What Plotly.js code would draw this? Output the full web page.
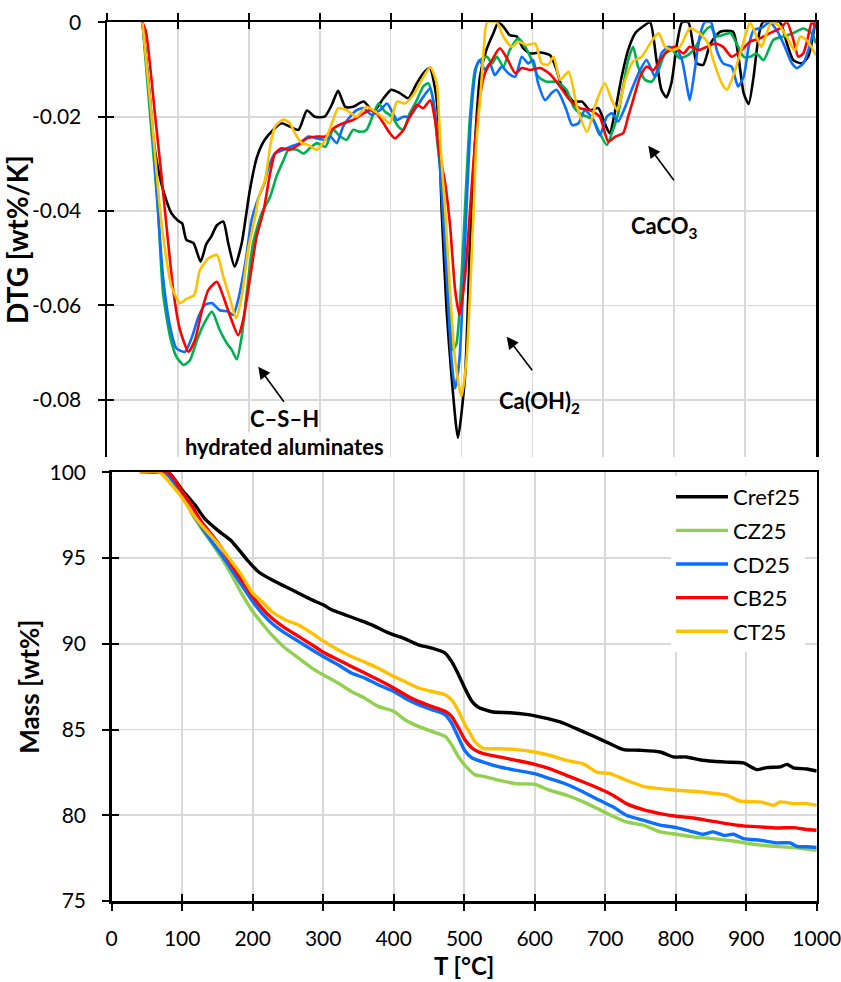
<!DOCTYPE html>
<html>
<head>
<meta charset="utf-8">
<script src="https://cdn.plot.ly/plotly-3.0.1.min.js"></script>
<style>html,body{margin:0;padding:0;background:#fff;}#chart{width:841px;height:982px;}</style>
</head>
<body>
<div id="chart"></div>
<script>
// ---------------- DATA ----------------
const seriesNames = ['Cref25', 'CZ25', 'CD25', 'CB25', 'CT25'];
const xTicks = [0, 100, 200, 300, 400, 500, 600, 700, 800, 900, 1000];
const dtgTickVals = [0, -0.02, -0.04, -0.06, -0.08];
const dtgTickText = ['0', '-0.02', '-0.04', '-0.06', '-0.08'];
const massTicks = [75, 80, 85, 90, 95, 100];

// DTG [wt%/K] (top panel)
const dtgT_Cref25 = [50,58,65,72,80,91,100,106,112,122,132,140,147,155,164,171,180,190,201,211,222,235,246,258,270,282,293,307,317,326,336,347,362,376,390,401,413,425,437,446,455,463,468,472,479,486,495,505,512,519,526,535,545,552,559,568,578,587,597,611,625,634,640,648,658,670,681,693,702,709,717,726,735,745,756,766,775,782,789,796,804,811,820,832,841,851,865,883,890,898,905,912,919,925,949,959,968,980,989,999];
const dtg_Cref25 = [0,-0.012,-0.024,-0.031,-0.036,-0.0405,-0.042,-0.0426,-0.0461,-0.0468,-0.0507,-0.047,-0.0454,-0.043,-0.0422,-0.0468,-0.0518,-0.0468,-0.036,-0.0288,-0.025,-0.0227,-0.0214,-0.0221,-0.0228,-0.0187,-0.020,-0.020,-0.0175,-0.0145,-0.0179,-0.0179,-0.0168,-0.0189,-0.0161,-0.0143,-0.015,-0.0161,-0.0129,-0.0108,-0.0097,-0.0143,-0.022,-0.0398,-0.061,-0.0751,-0.088,-0.075,-0.0468,-0.0256,-0.0115,-0.0059,-0.0023,0,-0.0009,-0.0027,-0.003,-0.0055,-0.0066,-0.0064,-0.007,-0.010,-0.013,-0.015,-0.0168,-0.0168,-0.0186,-0.0182,-0.0214,-0.0235,-0.0186,-0.0115,-0.0059,-0.0023,-0.0009,0,-0.008,-0.0143,-0.0159,-0.0129,-0.0045,0,0,-0.0087,-0.009,-0.0045,-0.002,-0.002,-0.0066,-0.015,-0.0173,-0.0115,-0.003,0,0,-0.0045,-0.008,-0.0087,-0.0073,0];

const dtgT_CZ25 = [50,61,72,79,89,98,108,117,127,136,148,159,169,176,183,190,197,206,218,230,239,249,256,268,277,286,296,308,319,329,338,347,357,366,376,383,392,402,411,418,427,437,446,453,460,466,474,481,488,493,500,506,512,519,526,536,543,550,559,568,580,590,599,608,620,634,648,658,667,677,686,695,705,712,721,728,735,742,749,759,768,778,787,797,808,820,829,841,851,860,879,888,898,907,916,926,940,954,968,982,994,1000];
const dtg_CZ25 = [0,-0.02,-0.04,-0.0574,-0.0666,-0.0709,-0.0726,-0.0716,-0.0673,-0.0641,-0.0613,-0.0652,-0.068,-0.0694,-0.0714,-0.0666,-0.0574,-0.0468,-0.0405,-0.037,-0.0327,-0.0292,-0.027,-0.027,-0.0278,-0.0267,-0.0256,-0.0264,-0.0228,-0.0242,-0.0249,-0.0228,-0.0232,-0.0228,-0.0193,-0.0172,-0.0189,-0.020,-0.0221,-0.0228,-0.0193,-0.0165,-0.0136,-0.0129,-0.0165,-0.0255,-0.037,-0.0539,-0.0694,-0.068,-0.0539,-0.0362,-0.020,-0.0101,-0.008,-0.0073,-0.0087,-0.0073,-0.0094,-0.0059,-0.0034,-0.0052,-0.008,-0.0115,-0.0126,-0.0126,-0.0143,-0.0179,-0.0193,-0.020,-0.0207,-0.0235,-0.026,-0.0235,-0.0193,-0.0136,-0.008,-0.0052,-0.0094,-0.0122,-0.0126,-0.0101,-0.0066,-0.0059,-0.0076,-0.0069,-0.0055,-0.0023,-0.0009,-0.003,-0.0023,-0.0045,-0.0073,-0.0073,-0.0066,-0.008,-0.0037,-0.003,-0.0023,-0.0013,-0.0023,-0.0045];

const dtgT_CD25 = [50,63,72,79,89,98,110,120,129,138,148,159,171,178,185,195,204,214,222,228,237,249,258,272,284,296,308,315,324,333,343,352,362,373,385,395,402,409,418,427,437,446,456,465,472,479,486,491,497,503,508,514,521,526,533,540,547,557,566,576,585,594,601,608,618,627,634,639,648,656,665,674,686,695,705,712,721,731,740,752,761,773,782,792,804,811,818,822,829,836,843,852,860,869,881,890,898,905,912,923,935,947,956,966,973,982,992,999];
const dtg_CD25 = [0,-0.02,-0.04,-0.0539,-0.0645,-0.0691,-0.0698,-0.0666,-0.0624,-0.0599,-0.0595,-0.061,-0.0613,-0.062,-0.0588,-0.051,-0.0419,-0.037,-0.0341,-0.0306,-0.0278,-0.027,-0.0264,-0.0256,-0.0242,-0.0246,-0.0249,-0.0242,-0.0256,-0.0221,-0.020,-0.0186,-0.0182,-0.0196,-0.0186,-0.0172,-0.0189,-0.0207,-0.020,-0.020,-0.0179,-0.0158,-0.014,-0.0221,-0.0362,-0.0539,-0.0716,-0.0776,-0.0716,-0.0539,-0.0362,-0.0186,-0.0094,-0.008,-0.0101,-0.0087,-0.0112,-0.0094,-0.0108,-0.0115,-0.0073,-0.0087,-0.008,-0.0129,-0.0165,-0.015,-0.0143,-0.0154,-0.0186,-0.0218,-0.0214,-0.0186,-0.0207,-0.0239,-0.020,-0.0193,-0.021,-0.0179,-0.0143,-0.0101,-0.008,-0.0115,-0.0066,-0.0052,-0.0059,-0.008,-0.0136,-0.0165,-0.0101,-0.003,0,0,-0.0059,-0.0087,-0.0094,-0.0136,-0.0115,-0.0052,-0.0016,-0.0012,0,-0.0023,-0.0052,-0.0087,-0.0097,-0.0087,-0.0045,0];

const dtgT_CB25 = [50,55,68,77,84,94,103,115,124,134,143,155,164,174,185,192,202,211,221,230,237,246,258,270,282,296,308,319,333,347,362,371,380,390,399,406,418,427,437,446,456,463,468,477,484,491,497,505,512,519,526,533,543,554,564,576,585,597,611,625,639,653,667,681,695,707,717,728,735,742,752,761,771,780,792,801,813,822,834,846,858,869,881,893,907,921,935,949,959,968,975,982,989,994,1000];
const dtg_CB25 = [0,-0.002,-0.02,-0.0327,-0.0433,-0.0574,-0.0652,-0.0698,-0.0673,-0.061,-0.0567,-0.055,-0.0581,-0.0624,-0.0663,-0.0631,-0.0539,-0.0454,-0.0398,-0.032,-0.0278,-0.0267,-0.027,-0.026,-0.0246,-0.0242,-0.0242,-0.0225,-0.0214,-0.0207,-0.0193,-0.0186,-0.0193,-0.0214,-0.0235,-0.0246,-0.0228,-0.020,-0.0175,-0.0182,-0.0165,-0.021,-0.027,-0.0341,-0.0433,-0.0567,-0.062,-0.0539,-0.0398,-0.0256,-0.0158,-0.0108,-0.008,-0.0055,-0.0076,-0.0108,-0.0097,-0.0101,-0.0097,-0.011,-0.0136,-0.0165,-0.0182,-0.0186,-0.020,-0.0253,-0.0242,-0.0235,-0.020,-0.0165,-0.0115,-0.0094,-0.0101,-0.008,-0.0059,-0.0052,-0.0066,-0.0052,-0.0059,-0.0052,-0.0045,-0.0052,-0.0073,-0.0062,-0.0041,-0.0034,-0.0023,-0.0013,0,-0.0037,-0.0073,-0.0066,-0.003,0,-0.001];

const dtgT_CT25 = [50,63,75,84,91,103,112,123,131,143,155,164,174,182,190,199,209,214,223,230,237,249,258,265,275,284,296,308,319,326,338,352,366,378,390,399,409,420,432,444,456,465,470,477,484,491,500,507,512,517,521,527,532,536,550,559,571,580,592,604,613,622,630,639,651,663,677,691,702,712,720,731,742,754,766,778,787,797,808,822,836,848,855,867,874,883,893,900,907,916,923,937,950,962,970,978,988,1000];
const dtg_CT25 = [0,-0.02,-0.04,-0.0504,-0.056,-0.0595,-0.0586,-0.0578,-0.0525,-0.050,-0.0493,-0.0539,-0.0588,-0.0627,-0.0581,-0.0482,-0.0412,-0.037,-0.0334,-0.0264,-0.0221,-0.0206,-0.0214,-0.0235,-0.0256,-0.026,-0.027,-0.0249,-0.0207,-0.0182,-0.0186,-0.020,-0.0179,-0.0189,-0.0203,-0.0214,-0.0168,-0.0172,-0.0154,-0.0122,-0.0095,-0.0129,-0.0256,-0.0398,-0.0574,-0.0716,-0.0793,-0.0716,-0.0574,-0.0398,-0.0256,-0.015,-0.0045,0,0,-0.003,-0.0052,-0.0041,-0.0048,-0.0045,-0.0087,-0.009,-0.0073,-0.0122,-0.0105,-0.0179,-0.0232,-0.0165,-0.0129,-0.0165,-0.0186,-0.0122,-0.0083,-0.0073,-0.0045,-0.0023,-0.0052,-0.0059,-0.0052,-0.0013,-0.0023,-0.0045,-0.008,-0.0129,-0.0143,-0.0115,-0.0066,-0.003,0,-0.003,-0.0052,0,-0.001,-0.004,-0.006,-0.003,-0.004,-0.007];

// Mass [wt%] (bottom panel)
const massT_Cref25 = [40,75,82,100,118,132,151,168,180,194,208,227,246,265,284,300,312,331,350,369,388,400,416,435,454,473,482,492,501,511,520,530,541,565,588,612,636,659,683,707,726,749,778,797,815,834,853,872,896,915,929,948,958,967,986,1000];
const mass_Cref25 = [100,100,99.94,98.97,98.1,97.3,96.6,96.06,95.5,94.8,94.2,93.73,93.34,92.95,92.56,92.27,91.98,91.69,91.4,91.1,90.72,90.52,90.29,89.94,89.75,89.46,88.97,88.2,87.4,86.64,86.3,86.14,86.02,85.98,85.88,85.69,85.44,85.05,84.62,84.17,83.83,83.79,83.69,83.4,83.4,83.24,83.15,83.1,83.05,82.66,82.78,82.82,82.97,82.76,82.7,82.58];

const massT_CZ25 = [40,75,100,113,127,142,156,170,184,200,213,227,246,265,284,300,321,340,359,378,400,416,435,454,473,482,492,503,515,527,550,574,600,621,645,669,692,711,730,754,778,801,825,853,882,910,939,967,1000];
const mass_CZ25 = [100,100,98.7,97.65,96.74,95.86,94.99,94.02,92.95,91.88,91.2,90.52,89.75,89.17,88.58,88.19,87.71,87.22,86.83,86.35,86.06,85.57,85.18,84.89,84.6,84.12,83.4,82.82,82.37,82.27,82.04,81.84,81.81,81.46,81.17,80.78,80.33,79.94,79.61,79.42,79.03,78.89,78.74,78.64,78.5,78.31,78.19,78.12,77.96];

const massT_CD25 = [40,75,100,113,127,142,156,170,184,200,213,227,246,265,284,300,321,340,359,378,400,416,435,454,473,482,492,501,511,520,527,550,574,600,621,645,669,692,711,730,754,778,801,825,839,853,868,882,896,920,943,962,972,986,1000];
const mass_CD25 = [100,100,98.68,97.7,96.83,95.96,95.18,94.31,93.44,92.47,91.79,91.2,90.62,90.14,89.65,89.26,88.78,88.29,88.0,87.61,87.22,86.83,86.45,86.16,85.86,85.38,84.52,83.76,83.35,83.2,83.1,82.82,82.62,82.43,82.14,81.81,81.36,80.87,80.49,80.0,79.71,79.42,79.28,79.03,78.89,79.03,78.83,78.89,78.64,78.54,78.39,78.39,78.19,78.16,78.12];

const massT_CB25 = [40,80,100,113,127,142,156,170,184,200,213,227,246,265,284,300,321,340,359,378,400,416,435,454,473,482,492,501,511,520,527,550,574,600,621,645,669,692,711,730,754,778,801,825,849,872,896,920,943,967,986,1000];
const mass_CB25 = [100,100,98.87,98.1,97.13,96.35,95.57,94.6,93.73,92.76,92.08,91.5,90.91,90.43,89.94,89.51,89.07,88.68,88.29,87.9,87.42,87.03,86.64,86.35,86.06,85.77,85.09,84.4,83.92,83.7,83.6,83.4,83.2,82.97,82.72,82.33,81.94,81.55,81.17,80.68,80.33,80.1,79.94,79.84,79.67,79.51,79.38,79.32,79.26,79.28,79.17,79.13];

const massT_CT25 = [40,68,85,100,113,127,142,156,170,184,200,213,227,246,265,284,300,321,340,359,378,400,416,435,454,473,482,492,501,508,515,527,550,574,600,621,645,669,688,707,730,754,778,801,825,849,872,891,920,939,948,967,986,1000];
const mass_CT25 = [100,100,99.26,98.5,97.7,96.93,96.25,95.57,94.8,94.02,92.95,92.47,91.88,91.4,91.1,90.62,90.17,89.65,89.26,88.93,88.58,88.1,87.8,87.42,87.22,87.03,86.74,86.06,85.28,84.8,84.3,83.9,83.88,83.83,83.69,83.5,83.2,83.0,82.52,82.43,82.04,81.69,81.55,81.46,81.4,81.3,81.17,80.83,80.78,80.58,80.78,80.68,80.68,80.58];

// ---------------- STYLE ----------------
const topColors = ['#000000', '#00B050', '#0A6EFF', '#FF0000', '#FFC000'];
const botColors = ['#000000', '#92D050', '#0A6EFF', '#FF0000', '#FFC000'];
const FONT = 'Lato, "Open Sans", sans-serif';
const W = 841, H = 982;
const px = v => v / W, py = v => 1 - v / H;

const dtgT = [dtgT_Cref25, dtgT_CZ25, dtgT_CD25, dtgT_CB25, dtgT_CT25];
const dtgV = [dtg_Cref25, dtg_CZ25, dtg_CD25, dtg_CB25, dtg_CT25];
const massT = [massT_Cref25, massT_CZ25, massT_CD25, massT_CB25, massT_CT25];
const massV = [mass_Cref25, mass_CZ25, mass_CD25, mass_CB25, mass_CT25];

const traces = [];
seriesNames.forEach((n, i) => {
  traces.push({x: dtgT[i], y: dtgV[i], xaxis: 'x', yaxis: 'y', type: 'scatter', mode: 'lines',
    name: n, showlegend: false, line: {color: topColors[i], width: 2.6, shape: 'spline', smoothing: 0.6},
    hoverinfo: 'skip'});
});
seriesNames.forEach((n, i) => {
  traces.push({x: massT[i], y: massV[i], xaxis: 'x2', yaxis: 'y2', type: 'scatter', mode: 'lines',
    name: n, legendgroup: n, showlegend: true, line: {color: botColors[i], width: 3.4, shape: 'spline', smoothing: 0.6},
    hoverinfo: 'skip'});
});
// empty traces that only activate the overlay axes used for the crossing tick marks
traces.push({x: [], y: [], xaxis: 'x3', yaxis: 'y3', type: 'scatter', mode: 'lines', showlegend: false});
traces.push({x: [], y: [], xaxis: 'x4', yaxis: 'y4', type: 'scatter', mode: 'lines', showlegend: false});

const topYRange = [-0.0921, 0];
const xDomTop = [px(107), px(816)];
const yDomTop = [py(457), py(22.3)];
const xDomBot = [px(111.7), px(816.7)];
const yDomBot = [py(901), py(472.3)];
const tickFont = {family: FONT, size: 21, color: '#000'};
const annFont = {family: FONT, size: 22, color: '#000', weight: 'bold'};

const baseAxis = {showline: true, linecolor: '#000', linewidth: 2.5, ticks: 'outside', ticklen: 7,
  tickwidth: 2, tickcolor: '#000', showgrid: true, gridcolor: '#D9D9D9', gridwidth: 1.6, zeroline: false,
  tickfont: tickFont, fixedrange: true, ticklabeloverflow: 'allow'};
const overlayAxis = {showline: false, ticks: 'inside', ticklen: 7, tickwidth: 2, tickcolor: '#000',
  showgrid: false, zeroline: false, showticklabels: false, fixedrange: true};

const layout = {
  width: W, height: H,
  margin: {l: 0, r: 0, t: 0, b: 0},
  paper_bgcolor: '#fff', plot_bgcolor: 'rgba(0,0,0,0)',
  font: {family: FONT, color: '#000'},
  showlegend: true,
  xaxis: Object.assign({}, baseAxis, {domain: xDomTop, anchor: 'y', side: 'top', range: [0, 1000],
    tickvals: xTicks, showticklabels: false, mirror: false}),
  yaxis: Object.assign({}, baseAxis, {domain: yDomTop, anchor: 'x', range: topYRange,
    tickvals: dtgTickVals, ticktext: dtgTickText, mirror: true, ticklabelstandoff: 12,
    title: {text: 'DTG [wt%/K]', font: {family: FONT, size: 28, color: '#000', weight: 'bold'}, standoff: 0}}),
  xaxis2: Object.assign({}, baseAxis, {domain: xDomBot, anchor: 'y2', range: [0, 1000],
    tickvals: xTicks, mirror: true, ticklabelstandoff: 10,
    title: {text: 'T [°C]', font: {family: FONT, size: 24, color: '#000', weight: 'bold'}, standoff: 10}}),
  yaxis2: Object.assign({}, baseAxis, {domain: yDomBot, anchor: 'x2', range: [75, 100],
    tickvals: massTicks, mirror: true, ticklabelstandoff: 12,
    title: {text: 'Mass [wt%]', font: {family: FONT, size: 26, color: '#000', weight: 'bold'}, standoff: 3}}),
  xaxis3: Object.assign({}, overlayAxis, {overlaying: 'x', anchor: 'y3', side: 'top', range: [0, 1000], tickvals: xTicks}),
  yaxis3: Object.assign({}, overlayAxis, {overlaying: 'y', anchor: 'x3', side: 'left', range: topYRange, tickvals: dtgTickVals}),
  xaxis4: Object.assign({}, overlayAxis, {overlaying: 'x2', anchor: 'y4', side: 'bottom', range: [0, 1000], tickvals: xTicks}),
  yaxis4: Object.assign({}, overlayAxis, {overlaying: 'y2', anchor: 'x4', side: 'left', range: [75, 100], tickvals: massTicks}),
  legend: {x: px(671), y: py(476), xanchor: 'left', yanchor: 'top', bgcolor: '#fff', borderwidth: 0,
    font: {family: FONT, size: 22, color: '#000'}, itemwidth: 52, traceorder: 'grouped', tracegroupgap: 2},
  annotations: [
    {xref: 'paper', yref: 'paper', x: px(284.5), y: py(418), text: 'C–S–H', showarrow: false, font: annFont},
    {xref: 'paper', yref: 'paper', x: px(284.5), y: py(446), text: 'hydrated aluminates', showarrow: false,
      bgcolor: '#fff', borderpad: 0, font: annFont},
    {xref: 'paper', yref: 'paper', x: px(539), y: py(402), text: 'Ca(OH)<sub>2</sub>', showarrow: false, font: annFont},
    {xref: 'paper', yref: 'paper', x: px(700), y: py(210), text: 'CaCO<sub>3</sub>', showarrow: false, font: annFont},
    {xref: 'paper', yref: 'paper', x: px(258.3), y: py(366.7), ax: 26.7, ay: 36.6, axref: 'pixel', ayref: 'pixel',
      text: '', showarrow: true, arrowhead: 2, arrowsize: 1.5, arrowwidth: 1.6, arrowcolor: '#000'},
    {xref: 'paper', yref: 'paper', x: px(506.7), y: py(336.7), ax: 26.6, ay: 35, axref: 'pixel', ayref: 'pixel',
      text: '', showarrow: true, arrowhead: 2, arrowsize: 1.5, arrowwidth: 1.6, arrowcolor: '#000'},
    {xref: 'paper', yref: 'paper', x: px(648.3), y: py(145.7), ax: 26.7, ay: 36, axref: 'pixel', ayref: 'pixel',
      text: '', showarrow: true, arrowhead: 2, arrowsize: 1.5, arrowwidth: 1.6, arrowcolor: '#000'}
  ]
};

Plotly.newPlot('chart', traces, layout, {staticPlot: true, displayModeBar: false});
</script>
</body>
</html>
